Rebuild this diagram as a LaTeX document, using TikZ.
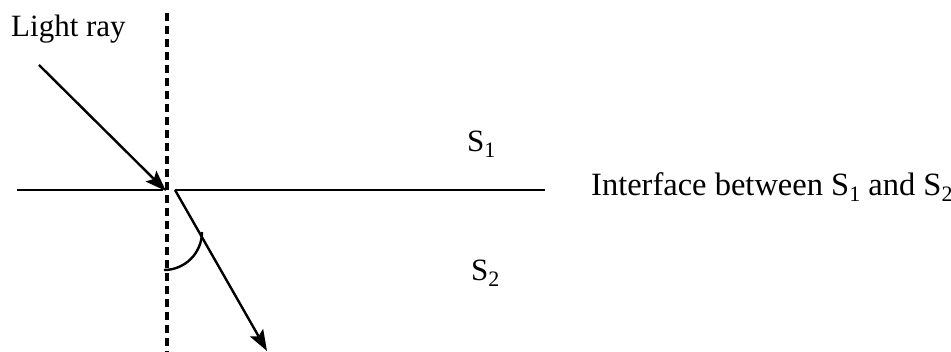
\documentclass[tikz,border=0pt]{standalone}
\usepackage{fontspec}
\setmainfont{Liberation Serif}
\usetikzlibrary{arrows.meta}
\newcommand{\subs}[1]{\raisebox{-6pt}{\fontsize{22}{24}\selectfont #1}}
\begin{document}
\begin{tikzpicture}[x=1pt,y=-1pt,
  lbl/.style={inner sep=0pt,anchor=base west,font=\fontsize{31}{36}\selectfont},
  ray/.style={line width=2.4pt,-{Stealth[length=21pt,width=15pt,inset=4pt]}},
  iface/.style={line width=2.4pt},
  normal/.style={line width=3.2pt,dash pattern=on 8pt off 5pt}]
\useasboundingbox (0,0) rectangle (951,352);
\coordinate (ntop) at (167,13);
\coordinate (nbot) at (167,352);
\coordinate (lstart) at (17,190);
\coordinate (lend) at (163,190);
\coordinate (o) at (175,190);
\coordinate (rend) at (545,190);
\coordinate (inA) at (39,65);
\coordinate (inB) at (166,191);
\coordinate (outB) at (267,351);
\draw[normal] (ntop) -- (nbot);
\draw[iface] (lstart) -- (lend);
\draw[iface] (o) -- (rend);
\draw[ray] (inA) -- (inB);
\draw[ray] (o) -- (outB);
\draw[iface] (164,270) arc[start angle=90,end angle=0,radius=38];
\node[lbl] (light) at (11,37) {Light ray};
\node[lbl] (s1) at (467,152) {S\subs{1}};
\node[lbl] (s2) at (471,281) {S\subs{2}};
\node[lbl,font=\fontsize{32.5}{36}\selectfont] (iftext) at (591,196) {Interface between S\subs{1} and S\subs{2}};
\end{tikzpicture}
\end{document}
